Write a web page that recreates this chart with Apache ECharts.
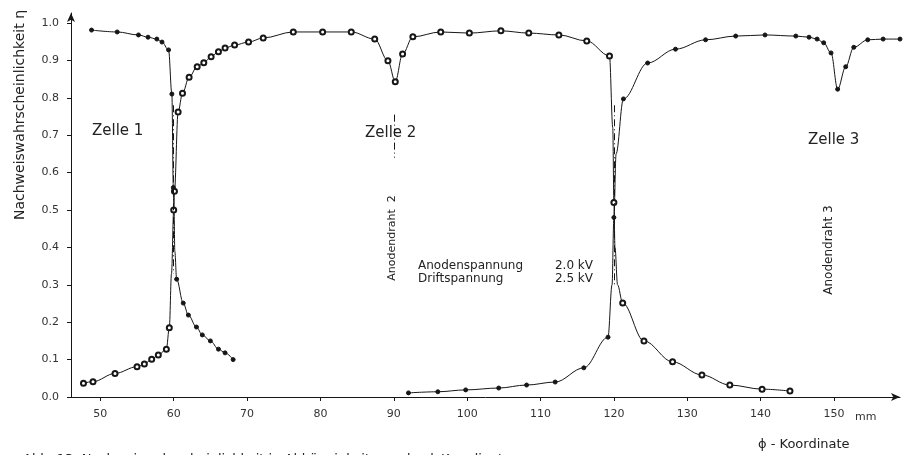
<!DOCTYPE html>
<html>
<head>
<meta charset="utf-8">
<script src="https://cdn.jsdelivr.net/npm/echarts@6/dist/echarts.min.js"></script>
<style>
  html, body { margin: 0; padding: 0; background: #fff; }
  #chart { width: 914px; height: 455px; }
</style>
</head>
<body>
<div id="chart"></div>
<script>
// Detection efficiency vs. phi coordinate for three drift cells.
const xTicks = [50, 60, 70, 80, 90, 100, 110, 120, 130, 140, 150];
const yTicks = [0, 0.1, 0.2, 0.3, 0.4, 0.5, 0.6, 0.7, 0.8, 0.9, 1.0];

// Cell 1 (dots): plateau, drop at the cell boundary (60 mm), tail into cell 2
const cell1 = [
  [48.8, 0.981], [52.3, 0.976], [55.2, 0.968], [56.5, 0.962],
  [57.7, 0.957], [58.4, 0.949], [59.3, 0.928], [59.75, 0.81], [59.95, 0.56],
  [60.05, 0.50], [60.15, 0.39], [60.4, 0.315], [61.3, 0.251], [62.0, 0.219],
  [63.1, 0.187], [63.9, 0.166], [65.0, 0.150], [66.1, 0.128], [67.0, 0.118],
  [68.1, 0.100]
];

// Cell 2 (circles): rise at 60 mm, dip at anode wire 2 (90 mm), drop at 120 mm
const cell2 = [
  [47.7, 0.037], [49.0, 0.041], [52.0, 0.063], [55.0, 0.081], [56.0, 0.088],
  [57.0, 0.101], [57.9, 0.112], [59.0, 0.128], [59.4, 0.185], [59.7, 0.33],
  [60.0, 0.50], [60.1, 0.55], [60.6, 0.762], [61.2, 0.812], [62.1, 0.855],
  [63.2, 0.883], [64.1, 0.894], [65.1, 0.910], [66.1, 0.923], [67.0, 0.933],
  [68.3, 0.941], [70.2, 0.949], [72.2, 0.960], [76.3, 0.976], [80.3, 0.976],
  [84.2, 0.976], [87.4, 0.957], [89.2, 0.899], [90.2, 0.843], [91.2, 0.917],
  [92.6, 0.963], [96.4, 0.976], [100.3, 0.973], [104.6, 0.979], [108.4, 0.973],
  [112.5, 0.968], [116.3, 0.952], [119.4, 0.912], [119.85, 0.72], [120.0, 0.52],
  [120.15, 0.40], [120.5, 0.30], [121.2, 0.251], [124.1, 0.150], [128.0, 0.094],
  [132.0, 0.059], [135.8, 0.032], [140.2, 0.021], [144.0, 0.016]
];

// Cell 3 (dots): tail from cell 2, rise at 120 mm, dip at anode wire 3 (150 mm)
const cell3 = [
  [92.0, 0.011], [96.0, 0.014], [99.8, 0.019], [104.3, 0.024], [108.1, 0.032],
  [112.0, 0.040], [115.9, 0.078], [119.2, 0.160], [119.75, 0.30], [120.0, 0.48],
  [120.3, 0.65], [121.3, 0.797], [124.6, 0.893], [128.4, 0.930], [132.5, 0.955],
  [136.6, 0.965], [140.6, 0.968], [144.8, 0.965], [146.6, 0.962], [147.7, 0.957],
  [148.6, 0.947], [149.6, 0.920], [150.5, 0.823], [151.6, 0.883], [152.7, 0.935],
  [154.6, 0.955], [156.7, 0.957], [159.0, 0.957]
];

// Positions on the steep flanks that only shape the curve (no measurement symbol)
const cell1Bare = [60.15];
const cell2Bare = [59.7, 119.85, 120.15, 120.5];
const cell3Bare = [119.75, 120.3];

// Dash-dot guides at the cell boundaries / wire: [x, yTop, yBottom]
const wireGuides = [[60, 0.78, 0.33], [90, 0.755, 0.64], [120, 0.78, 0.30]];

const ink = '#161616';
const font = 'DejaVu Sans';

const chart = echarts.init(document.getElementById('chart'), null, { renderer: 'canvas' });

function curve(name, data, bare, symbol, size) {
  return {
    name, type: 'line',
    data: data.map(p => bare.includes(p[0]) ? { value: p, symbol: 'none' } : p),
    smooth: 0.35, smoothMonotone: 'x',
    symbol, symbolSize: size,
    itemStyle: { color: ink, borderColor: ink, borderWidth: 1 },
    lineStyle: { color: ink, width: 1 },
    z: 3
  };
}

const s1 = curve('Zelle 1', cell1, cell1Bare, 'circle', 4);
const s2 = curve('Zelle 2', cell2, cell2Bare, 'emptyCircle', 5);
const s3 = curve('Zelle 3', cell3, cell3Bare, 'circle', 4);
s1.markLine = {
  silent: true, symbol: 'none', label: { show: false },
  lineStyle: { color: ink, width: 1, type: [7, 3, 1, 3] },
  data: wireGuides.map(g => [{ coord: [g[0], g[1]] }, { coord: [g[0], g[2]] }])
};

chart.setOption({
  animation: false,
  backgroundColor: '#fff',
  grid: { left: 71, right: 14, top: 13, bottom: 58 },
  xAxis: {
    type: 'value', min: 46, max: 159,
    axisLine: { lineStyle: { color: ink, width: 1 }, symbol: ['none', 'arrow'], symbolSize: [6, 9] },
    axisTick: { customValues: xTicks, length: 4, lineStyle: { color: ink } },
    axisLabel: { customValues: xTicks, margin: 12, color: '#333', fontFamily: font, fontSize: 11 },
    splitLine: { show: false }
  },
  yAxis: {
    type: 'value', min: 0, max: 1.0267,
    axisLine: { show: true, lineStyle: { color: ink, width: 1 }, symbol: ['none', 'arrow'], symbolSize: [6, 9] },
    axisTick: { show: true, customValues: yTicks, length: 4, lineStyle: { color: ink } },
    axisLabel: { customValues: yTicks, margin: 12, color: '#333', fontFamily: font, fontSize: 11,
      formatter: v => v.toFixed(1) },
    splitLine: { show: false }
  },
  series: [s1, s2, s3],
  graphic: [
    { type: 'text', left: 92, top: 124, style: { text: 'Zelle 1', fontFamily: font, fontSize: 15, fill: '#222' } },
    { type: 'text', left: 365, top: 126, style: { text: 'Zelle 2', fontFamily: font, fontSize: 15, fill: '#222' } },
    { type: 'text', left: 808, top: 133, style: { text: 'Zelle 3', fontFamily: font, fontSize: 15, fill: '#222' } },
    { type: 'text', x: 392, y: 238, rotation: Math.PI / 2,
      style: { text: 'Anodendraht  2', fontFamily: font, fontSize: 11, fill: '#222', align: 'center', verticalAlign: 'middle' } },
    { type: 'text', x: 829, y: 250, rotation: Math.PI / 2,
      style: { text: 'Anodendraht 3', fontFamily: font, fontSize: 12, fill: '#222', align: 'center', verticalAlign: 'middle' } },
    { type: 'text', x: 418, y: 266, style: { text: 'Anodenspannung', fontFamily: font, fontSize: 12, fill: '#222', verticalAlign: 'middle' } },
    { type: 'text', x: 593, y: 266, style: { text: '2.0 kV', fontFamily: font, fontSize: 12, fill: '#222', align: 'right', verticalAlign: 'middle' } },
    { type: 'text', x: 418, y: 279, style: { text: 'Driftspannung', fontFamily: font, fontSize: 12, fill: '#222', verticalAlign: 'middle' } },
    { type: 'text', x: 593, y: 279, style: { text: '2.5 kV', fontFamily: font, fontSize: 12, fill: '#222', align: 'right', verticalAlign: 'middle' } },
    { type: 'text', x: 20, y: 115, rotation: Math.PI / 2,
      style: { text: 'Nachweiswahrscheinlichkeit η', fontFamily: font, fontSize: 14, fill: '#222', align: 'center', verticalAlign: 'middle' } },
    { type: 'text', x: 855, y: 417, style: { text: 'mm', fontFamily: font, fontSize: 11, fill: '#333', verticalAlign: 'middle' } },
    { type: 'text', x: 758, y: 445, style: { text: 'ϕ - Koordinate', fontFamily: font, fontSize: 13, fill: '#222', verticalAlign: 'middle' } },
    { type: 'text', x: 23, y: 453, style: { text: 'Abb. 13: Nachweiswahrscheinlichkeit in Abhängigkeit von der ϕ-Koordinate', fontFamily: font, fontSize: 13, fill: '#222' } }
  ]
});
</script>
</body>
</html>
